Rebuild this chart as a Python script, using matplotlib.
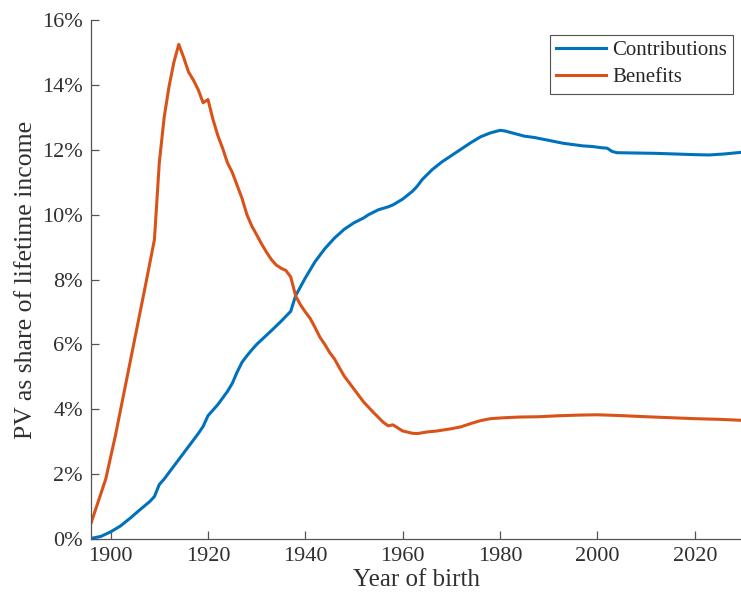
import numpy as np
import matplotlib
matplotlib.use('Agg')
import matplotlib.pyplot as plt
from matplotlib.ticker import FuncFormatter

# 读取的数据（出生年份, 占终身收入的现值比例 %）
contrib_years = [1896, 1898, 1900, 1902, 1904, 1906, 1908, 1909, 1910, 1911, 1912, 1914,
                 1916, 1918, 1919, 1920, 1922, 1924, 1925, 1926, 1927, 1928, 1929, 1930,
                 1931, 1933, 1935, 1937, 1938, 1940, 1942, 1944, 1946, 1948, 1950, 1952,
                 1953, 1955, 1957, 1958, 1960, 1962, 1963, 1964, 1966, 1968, 1970, 1972,
                 1974, 1976, 1978, 1980, 1981, 1983, 1985, 1987, 1989, 1991, 1993, 1995,
                 1997, 1999, 2001, 2002, 2003, 2004, 2008, 2012, 2016, 2020, 2023, 2026, 2029.5]
contrib_vals = [0.02, 0.08, 0.22, 0.40, 0.64, 0.90, 1.15, 1.31, 1.68, 1.85, 2.05, 2.45,
                2.85, 3.25, 3.47, 3.80, 4.14, 4.55, 4.80, 5.15, 5.45, 5.65, 5.83, 6.00,
                6.14, 6.42, 6.71, 7.02, 7.50, 8.05, 8.55, 8.95, 9.28, 9.55, 9.75, 9.90,
                10.00, 10.15, 10.24, 10.30, 10.48, 10.72, 10.88, 11.08, 11.38, 11.62, 11.82, 12.02,
                12.22, 12.40, 12.52, 12.60, 12.58, 12.50, 12.42, 12.38, 12.32, 12.26, 12.20, 12.16,
                12.12, 12.10, 12.06, 12.05, 11.95, 11.91, 11.90, 11.89, 11.87, 11.85, 11.84, 11.87, 11.92]

benefit_years = [1896, 1897, 1899, 1901, 1903, 1905, 1907, 1909, 1910, 1911, 1912, 1913,
                 1914, 1915, 1916, 1917, 1918, 1919, 1920, 1921, 1922, 1923, 1924, 1925,
                 1926, 1927, 1928, 1929, 1930, 1931, 1932, 1933, 1934, 1935, 1936, 1937,
                 1938, 1939, 1940, 1941, 1942, 1943, 1944, 1945, 1946, 1947, 1948, 1950,
                 1952, 1954, 1956, 1957, 1958, 1960, 1962, 1963, 1965, 1967, 1970, 1972,
                 1974, 1976, 1978, 1981, 1984, 1988, 1992, 1996, 2000, 2004, 2010, 2015,
                 2020, 2025, 2029.5]
benefit_vals = [0.50, 0.95, 1.85, 3.20, 4.70, 6.20, 7.70, 9.23, 11.60, 13.00, 13.95, 14.70,
                15.25, 14.85, 14.40, 14.15, 13.85, 13.45, 13.55, 12.95, 12.45, 12.05, 11.60, 11.30,
                10.90, 10.50, 10.00, 9.65, 9.38, 9.10, 8.85, 8.62, 8.45, 8.35, 8.28, 8.08,
                7.50, 7.22, 7.00, 6.80, 6.52, 6.22, 6.00, 5.75, 5.55, 5.28, 5.02, 4.62,
                4.22, 3.90, 3.60, 3.49, 3.52, 3.33, 3.26, 3.25, 3.30, 3.33, 3.40, 3.46,
                3.56, 3.65, 3.71, 3.74, 3.76, 3.77, 3.80, 3.82, 3.83, 3.81, 3.77, 3.74,
                3.71, 3.69, 3.66]

x_ticks = [1900, 1920, 1940, 1960, 1980, 2000, 2020]
y_ticks = [0, 2, 4, 6, 8, 10, 12, 14, 16]

plt.rcParams['font.family'] = ['Liberation Serif', 'DejaVu Serif']

fig = plt.figure(figsize=(7.41, 6.07), dpi=100)
ax = fig.add_axes([0.123, 0.112, 0.877, 0.855])

ax.plot(contrib_years, contrib_vals, color='#0072BD', linewidth=2.2, label='Contributions')
ax.plot(benefit_years, benefit_vals, color='#D95319', linewidth=2.2, label='Benefits')

ax.set_xlim(1896, 2029.5)
ax.set_ylim(0, 16)
ax.set_xticks(x_ticks)
ax.set_yticks(y_ticks)
ax.yaxis.set_major_formatter(FuncFormatter(lambda v, p: '%d%%' % v))

# 坐标轴样式
for side in ['top', 'right']:
    ax.spines[side].set_visible(False)
for side in ['left', 'bottom']:
    ax.spines[side].set_color('#555555')
    ax.spines[side].set_linewidth(0.9)
ax.tick_params(direction='in', length=6, width=0.9, color='#555555',
               labelsize=16, labelcolor='#303030', pad=6)

ax.set_xlabel('Year of birth', fontsize=18, color='#303030', labelpad=2)
ax.set_ylabel('PV as share of lifetime income', fontsize=18.5, color='#303030', labelpad=4)

leg = ax.legend(loc='upper right', bbox_to_anchor=(0.988, 0.972), fontsize=15,
                frameon=True, fancybox=False, handlelength=2.4, borderpad=0.3,
                labelspacing=0.35, handletextpad=0.3, borderaxespad=0)
leg.get_frame().set_edgecolor('#262626')
leg.get_frame().set_linewidth(0.8)
for t in leg.get_texts():
    t.set_color('#262626')

plt.savefig('out.png', dpi=100)
